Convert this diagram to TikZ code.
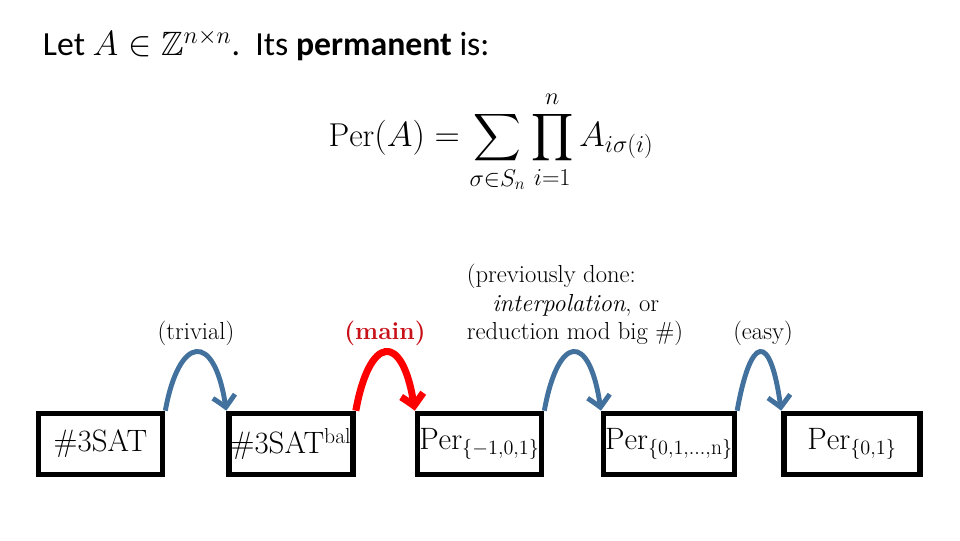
\documentclass[tikz,border=0pt]{standalone}
\usepackage{amssymb}
\usepackage{fontspec}
\newfontfamily\calibri{Carlito}
\usetikzlibrary{arrows.meta,bending}
\definecolor{redublue}{RGB}{65,113,156}
\definecolor{mainred}{RGB}{200,16,24}

\begin{document}
\begin{tikzpicture}[x=0.025cm,y=-0.025cm,
    probbox/.style={draw,line width=4pt,minimum width=3.1cm,minimum height=1.525cm,
      inner sep=1pt,font=\fontsize{22}{26}\selectfont},
    redu/.style={redublue,line width=3.5pt,-{Straight Barb[length=8pt,width=16pt,bend]}},
    lbl/.style={font=\fontsize{17.5}{20.5}\selectfont}]
    \useasboundingbox (0,0) rectangle (960,540);

    % Heading and formula
    \node[anchor=west,font=\fontsize{24}{28}\selectfont] (head) at (38,45)
      {\calibri Let $A\in\mathbb{Z}^{n\times n}$.\ \ Its \textbf{permanent} is:};
    \node[font=\fontsize{23.5}{28}\selectfont] (perm) at (491,142)
      {$\displaystyle \mathrm{Per}(A)=\sum_{\sigma\in S_n}\prod_{i=1}^{n}A_{i\sigma(i)}$};

    % Problems
    \node[probbox] (sat) at (100.5,444) {\#3SAT};
    \node[probbox] (bal) at (291,444) {\#3SAT\textsuperscript{bal}};
    \node[probbox] (pm) at (479.5,444) {$\mathrm{Per}_{\{-1,0,1\}}$};
    \node[probbox] (pn) at (669,444) {$\mathrm{Per}_{\{0,1,\ldots,\mathrm{n}\}}$};
    \node[probbox,minimum width=3.4cm] (pb) at (852,444) {$\mathrm{Per}_{\{0,1\}}$};

    % Labels
    \node[lbl] (triv) at (196,333) {(trivial)};
    \node[lbl,mainred,font=\fontsize{17.5}{20.5}\selectfont\bfseries] (main) at (385,333) {(main)};
    \node[lbl,align=left] (prev) at (575,305)
      {(previously done:\\ \hspace*{18pt}\textit{interpolation}, or\\ reduction mod big \#)};
    \node[lbl] (easy) at (763,333) {(easy)};

    % Reductions
    \draw[redu] (sat.north east) .. controls +(14,-78) and +(-10,-80) .. (bal.north west);
    \draw[redu,red,line width=5pt] (bal.north east) .. controls +(14,-78) and +(-10,-80) .. (pm.north west);
    \draw[redu] (pm.north east) .. controls +(14,-78) and +(-10,-80) .. (pn.north west);
    \draw[redu] (pn.north east) .. controls +(14,-78) and +(-10,-80) .. (pb.north west);
\end{tikzpicture}
\end{document}
